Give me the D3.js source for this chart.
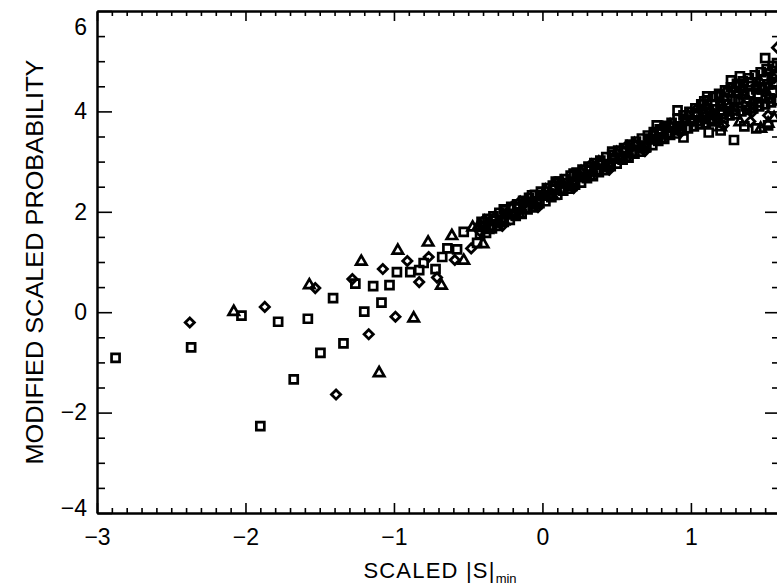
<!DOCTYPE html>
<html>
<head>
<meta charset="utf-8">
<script src="https://cdn.jsdelivr.net/npm/d3@7/dist/d3.min.js"></script>
<style>
  html, body { margin: 0; padding: 0; background: #fff; }
  svg { display: block; font-family: "Liberation Sans", Arial, Helvetica, sans-serif; }
</style>
</head>
<body>
<svg id="chart" width="777" height="587"></svg>
<script>
// ---- data ----
const xMajorTicks = [-3, -2, -1, 0, 1];
const yMajorTicks = [-4, -2, 0, 2, 4, 6];
const xLabel = "SCALED |S|";
const xLabelSub = "min";
const yLabel = "MODIFIED SCALED PROBABILITY";

// open squares
const squares = [
  [-2.875,-0.91],[-2.366,-0.70],[-2.027,-0.07],[-1.78,-0.19],[-1.90,-2.27],[-1.675,-1.34],
  [-1.58,-0.13],[-1.41,0.28],[-1.495,-0.81],[-1.34,-0.62],[-1.20,0.01],[-1.084,0.19],
  [-1.26,0.57],[-1.14,0.52],[-1.03,0.54],[-0.98,0.80],[-0.89,0.80],[-0.83,0.84],
  [-0.80,0.98],[-0.72,0.86],[-0.675,1.10],[-0.64,1.27],[-0.53,1.60],[-0.575,1.25],[-0.44,1.38],
  [-0.42,1.55],[-0.41,1.80],[-0.38,1.58],[-0.37,1.86],[-0.34,1.67],[-0.33,1.91],
  [-0.30,1.72],[-0.29,1.98],[-0.26,1.80],[-0.25,2.03],[-0.22,1.84],[-0.21,2.10],
  [-0.18,1.92],[-0.17,2.15],[-0.14,1.96],[-0.13,2.22],[-0.10,2.05],[-0.09,2.28],
  [-0.06,2.09],[-0.05,2.34],[-0.02,2.17],[-0.01,2.40],[0.02,2.21],[0.03,2.47],
  [0.06,2.29],[0.07,2.52],[0.10,2.34],[0.11,2.60],[0.14,2.42],[0.15,2.65],
  [0.18,2.46],[0.19,2.72],[0.22,2.54],[0.23,2.78],[0.26,2.58],[0.27,2.84],
  [0.30,2.67],[0.31,2.90],[0.34,2.71],[0.35,2.97],[0.38,2.79],[0.39,3.02],
  [0.42,2.83],[0.43,3.09],[0.46,2.91],[0.47,3.14],[0.50,2.96],[0.51,3.22],
  [0.54,3.04],[0.55,3.27],[0.58,3.08],[0.59,3.34],[0.62,3.16],[0.63,3.40],
  [0.66,3.20],[0.67,3.46],[0.70,3.29],[0.71,3.52],[0.74,3.33],[0.75,3.59],
  [0.78,3.41],[0.79,3.64],[0.82,3.45],[0.83,3.71],[0.86,3.53],[0.87,3.77],
  [0.90,3.56],[0.91,3.85],[0.94,3.62],[0.95,3.92],[0.98,3.66],[0.99,3.99],
  [1.02,3.70],[1.03,4.06],[1.06,3.74],[1.07,4.14],[1.10,3.76],[1.11,4.22],
  [1.14,3.80],[1.15,4.29],[1.18,3.84],[1.19,4.35],[1.22,3.86],[1.23,4.42],
  [1.26,3.92],[1.27,4.48],[1.30,3.94],[1.31,4.55],[1.34,4.00],[1.35,4.60],
  [1.38,4.03],[1.39,4.66],[1.42,4.06],[1.43,4.72],[1.46,4.10],[1.47,4.78],
  [1.50,4.14],[1.51,4.84],[1.54,4.18],[1.55,4.90],[1.58,4.22],[1.58,4.96],
  [1.29,3.43],[0.95,3.48],[1.12,3.58],[1.20,3.62],[1.36,3.70],[1.44,3.66],[1.52,3.72],
  [1.50,5.06],[1.27,4.62],[1.33,4.70],[0.91,4.02],[1.11,4.30],[0.77,3.72],[0.47,3.20],
  [0.21,2.76],[0.09,2.60],[-0.07,2.33],[-0.26,2.05],
  [1.10,3.98],[1.20,4.10],[1.30,4.22],[1.40,4.36],[1.50,4.48],[1.56,4.58],
  [-0.40,1.70],[-0.36,1.71],[-0.32,1.82],[-0.28,1.84],[-0.24,1.95],[-0.20,1.96],
  [-0.16,2.07],[-0.12,2.08],[-0.08,2.20],[-0.04,2.21],[0.00,2.32],[0.04,2.33],
  [0.08,2.44],[0.12,2.46],[0.16,2.57],[0.20,2.58],[0.24,2.69],[0.28,2.70],
  [0.32,2.82],[0.36,2.83],[0.40,2.94],[0.44,2.95],[0.48,3.06],[0.52,3.08],
  [0.56,3.19],[0.60,3.20],[0.64,3.31],[0.68,3.32],[0.72,3.44],[0.76,3.45],
  [0.80,3.56],[0.84,3.57],[0.88,3.68],[0.92,3.70],[0.96,3.81],[1.00,3.82],
  [1.04,3.93],[1.08,3.94],[1.12,4.04],[1.16,4.04],[1.20,4.14],[1.24,4.14],
  [1.28,4.24],[1.32,4.24],[1.36,4.34],[1.40,4.34],[1.44,4.44],[1.48,4.44],
  [1.52,4.54],[1.56,4.54],
  [1.09,4.20],[1.13,3.85],[1.17,4.30],[1.21,3.95],[1.25,4.38],[1.29,4.02],
  [1.33,4.50],[1.37,4.10],[1.41,4.58],[1.45,4.18],[1.49,4.64],[1.53,4.26],
  [1.57,4.70],[1.55,4.40],[1.45,4.30],[1.35,4.40],[1.25,4.00]
];

// open diamonds
const diamonds = [
  [-2.375,-0.205],[-1.87,0.106],[-1.53,0.48],[-1.39,-1.64],[-1.17,-0.44],[-0.99,-0.09],
  [-1.28,0.66],[-1.075,0.86],[-0.91,1.02],[-0.83,0.60],[-0.766,1.10],[-0.71,0.69],
  [-0.59,1.04],[-0.48,1.27],
  [-0.42,1.61],[-0.36,1.79],[-0.30,1.80],[-0.24,1.98],[-0.18,1.98],[-0.12,2.16],
  [-0.06,2.17],[0.00,2.35],[0.06,2.35],[0.12,2.54],[0.18,2.54],[0.24,2.72],
  [0.30,2.73],[0.36,2.91],[0.42,2.91],[0.48,3.09],[0.54,3.10],[0.60,3.28],
  [0.66,3.28],[0.72,3.47],[0.78,3.47],[0.84,3.65],[0.90,3.64],[0.96,3.86],
  [1.02,3.82],[1.08,4.04],[1.14,3.96],[1.20,4.20],[1.26,4.10],[1.32,4.36],
  [1.38,4.24],[1.44,4.52],[1.50,4.38],[1.56,4.66],[1.58,5.27],
  [-0.39,1.84],[-0.27,1.72],[-0.15,2.21],[-0.03,2.09],[0.09,2.58],[0.21,2.47],
  [0.33,2.95],[0.45,2.84],[0.57,3.32],[0.69,3.21],[0.81,3.70],[0.93,3.58],
  [1.05,4.08],[1.17,3.86],[1.29,4.45],[1.41,3.98],[1.53,4.80],
  [1.40,3.80],[1.52,3.92],[1.22,3.72]
];

// open triangles
const triangles = [
  [-2.079,0.02],[-1.57,0.55],[-0.867,-0.11],[-1.10,-1.20],[-1.22,1.02],[-0.974,1.24],
  [-0.77,1.40],[-0.68,0.54],[-0.61,1.53],[-0.53,1.04],[-0.47,1.70],[-0.40,1.37],
  [-0.43,1.73],[-0.37,1.65],[-0.32,1.90],[-0.26,1.82],[-0.21,2.07],[-0.16,1.97],
  [-0.11,2.23],[-0.05,2.14],[0.02,2.43],[0.07,2.33],[0.13,2.60],[0.19,2.51],
  [0.26,2.80],[0.32,2.72],[0.38,2.99],[0.43,2.89],[0.50,3.18],[0.56,3.09],
  [0.62,3.36],[0.68,3.27],[0.74,3.55],[0.80,3.46],[0.86,3.73],[0.92,3.64],
  [0.98,3.93],[1.04,3.80],[1.10,4.12],[1.16,3.92],[1.22,4.30],[1.28,4.02],
  [1.34,4.46],[1.40,4.12],[1.46,4.62],[1.52,4.26],[1.57,4.74],
  [1.47,3.67],[1.52,3.77],[1.33,3.80],[1.56,3.88],[1.20,3.70]
];

// ---- drawing ----
const W = 777, H = 587;
const svg = d3.select("#chart");
svg.append("rect").attr("width", W).attr("height", H).attr("fill", "#fff");

const x = d3.scaleLinear().domain([-3, 1.6]).range([97, 780]);
const y = d3.scaleLinear().domain([-4, 6]).range([513, 11]);

const xMinor = d3.range(-30, 17).map(d => d / 10).filter(v => !xMajorTicks.some(m => Math.abs(m - v) < 1e-9));
const yMinor = d3.range(-8, 13).map(d => d / 2).filter(v => !yMajorTicks.some(m => Math.abs(m - v) < 1e-9));

const pts = svg.append("g").attr("fill", "none").attr("stroke", "#000").attr("stroke-width", 2.7);

pts.selectAll("path.sq").data(squares).join("path")
  .attr("class", "sq")
  .attr("d", d3.symbol(d3.symbolSquare, 64)())
  .attr("transform", d => `translate(${x(d[0])},${y(d[1])})`);

const diamondPath = "M0,-4.6L4.6,0L0,4.6L-4.6,0Z";
pts.selectAll("path.di").data(diamonds).join("path")
  .attr("class", "di")
  .attr("d", diamondPath)
  .attr("stroke-width", 2.8)
  .attr("transform", d => `translate(${x(d[0])},${y(d[1])})`);

const triPath = "M0,-5.4L5.2,3.6L-5.2,3.6Z";
pts.selectAll("path.tr").data(triangles).join("path")
  .attr("class", "tr")
  .attr("d", triPath)
  .attr("transform", d => `translate(${x(d[0])},${y(d[1])})`);

// axes
function styleAxis(g) {
  g.selectAll("path.domain").attr("stroke", "#000").attr("stroke-width", 2);
  g.selectAll(".tick line").attr("stroke", "#000").attr("stroke-width", 1.6);
  g.selectAll(".tick text").attr("fill", "#000").attr("font-size", 23);
}
const fmt = d => d < 0 ? "\u2212" + Math.abs(d) : String(d);

// bottom
const gb = svg.append("g").attr("transform", `translate(0,${y(-4)})`);
gb.call(d3.axisBottom(x).tickValues(xMinor).tickSize(-5).tickSizeOuter(0).tickFormat(""));
gb.call(styleAxis);
const gb2 = svg.append("g").attr("transform", `translate(0,${y(-4)})`);
gb2.call(d3.axisBottom(x).tickValues(xMajorTicks).tickSize(-10).tickSizeOuter(0).tickPadding(16).tickFormat(fmt));
gb2.call(styleAxis);
// top
const gt = svg.append("g").attr("transform", `translate(0,${y(6)})`);
gt.call(d3.axisTop(x).tickValues(xMinor).tickSize(-5).tickSizeOuter(0).tickFormat(""));
gt.call(styleAxis);
const gt2 = svg.append("g").attr("transform", `translate(0,${y(6)})`);
gt2.call(d3.axisTop(x).tickValues(xMajorTicks).tickSize(-10).tickSizeOuter(0).tickFormat(""));
gt2.call(styleAxis);
// left
const gl = svg.append("g").attr("transform", `translate(${x(-3)},0)`);
gl.call(d3.axisLeft(y).tickValues(yMinor).tickSize(-8).tickSizeOuter(0).tickFormat(""));
gl.call(styleAxis);
const gl2 = svg.append("g").attr("transform", `translate(${x(-3)},0)`);
gl2.call(d3.axisLeft(y).tickValues(yMajorTicks).tickSize(-15).tickSizeOuter(0).tickPadding(10).tickFormat(fmt));
gl2.call(styleAxis);
// keep the end labels inside the picture, as in the reference
gl2.selectAll(".tick text").attr("dy", d => d === 6 ? "1.0em" : (d === -4 ? "0.1em" : "0.32em"));
// right
const gr = svg.append("g").attr("transform", `translate(${x(1.6)},0)`);
gr.call(d3.axisRight(y).tickValues(yMinor).tickSize(-8).tickSizeOuter(0).tickFormat(""));
gr.call(styleAxis);
const gr2 = svg.append("g").attr("transform", `translate(${x(1.6)},0)`);
gr2.call(d3.axisRight(y).tickValues(yMajorTicks).tickSize(-15).tickSizeOuter(0).tickFormat(""));
gr2.call(styleAxis);

// axis titles
const xt = svg.append("text")
  .attr("x", 440).attr("y", 578)
  .attr("text-anchor", "middle")
  .attr("font-size", 22)
  .attr("letter-spacing", 1.2)
  .attr("fill", "#000");
xt.append("tspan").text(xLabel);
xt.append("tspan").attr("font-size", 13).attr("letter-spacing", 0).attr("dy", 5).text(xLabelSub);

svg.append("text")
  .attr("transform", `translate(43,${(y(6) + y(-4)) / 2}) rotate(-90)`)
  .attr("text-anchor", "middle")
  .attr("font-size", 23)
  .attr("textLength", 405)
  .attr("lengthAdjust", "spacingAndGlyphs")
  .attr("fill", "#000")
  .text(yLabel);
</script>
</body>
</html>
